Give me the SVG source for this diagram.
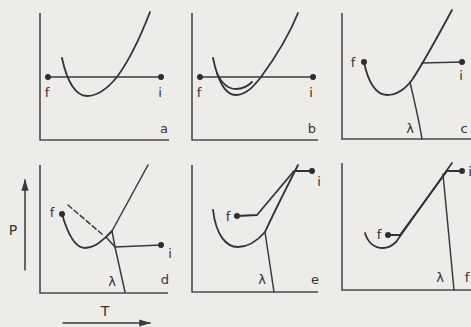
<svg xmlns="http://www.w3.org/2000/svg" width="471" height="327" viewBox="0 0 471 327">
<defs>
<style>
.ln{fill:none;stroke:#3a3a3a;stroke-width:1.5;stroke-linecap:round;stroke-linejoin:round}
.cv{fill:none;stroke:#333;stroke-width:1.8;stroke-linecap:round;stroke-linejoin:round}
.ax{fill:none;stroke:#4a4a4a;stroke-width:1.6}
.dot{fill:#2e2e2e}
.t{font-family:"DejaVu Sans","Liberation Sans",sans-serif;font-size:13px;fill:#333;text-anchor:middle}
</style>
<marker id="ah" viewBox="0 0 10 10" refX="9" refY="5" markerWidth="8" markerHeight="8" markerUnits="userSpaceOnUse" orient="auto"><path d="M0,1 L10,5 L0,9 Z" fill="#3a3a3a"/></marker>
<marker id="ahb" viewBox="0 0 10 10" refX="9" refY="5" markerWidth="12" markerHeight="12" markerUnits="userSpaceOnUse" orient="auto"><path d="M0,2 L10,5 L0,8 Z" fill="#3a3a3a"/></marker>
</defs>
<rect width="471" height="327" fill="#eeece8"/>

<g id="panel-a">
<path class="ax" d="M40,13 L40,140 L169,140"/>
<path class="ln" d="M48,77 L161,77"/>
<path class="cv" d="M62,58 C67,82 76,96 87,96 C98,96 108,88 117,77 C128,62 140,38 150,12"/>
<circle class="dot" cx="48" cy="77" r="3"/>
<circle class="dot" cx="161" cy="77" r="3"/>
<text class="t" x="47" y="97">f</text>
<text class="t" x="160" y="97">i</text>
<text class="t" x="164" y="133">a</text>
</g>

<g id="panel-b">
<path class="ax" d="M192,13 L192,140 L318,140"/>
<path class="ln" d="M200,77 L313,77"/>
<path class="cv" d="M213,58 C218,82 226,95 236,95 C246,95 254,86 261,77 C272,62 288,38 298,13"/>
<path class="cv" d="M217,73 C222,84 229,89 236,89 C243,89 248,86 252,82"/>
<circle class="dot" cx="200" cy="77" r="3"/>
<circle class="dot" cx="313" cy="77" r="3"/>
<text class="t" x="199" y="97">f</text>
<text class="t" x="311" y="97">i</text>
<text class="t" x="312" y="133">b</text>
</g>

<g id="panel-c">
<path class="ax" d="M342,13 L342,139 L471,139"/>
<path class="cv" d="M364,62 C368,82 376,95 387,95 C398,95 406,88 412,80 C420,68 438,36 452,10"/>
<path class="ln" d="M422,63 L462,62"/>
<path class="ln" d="M410,82 C414,100 419,120 422,139"/>
<circle class="dot" cx="364" cy="62" r="3"/>
<circle class="dot" cx="462" cy="62" r="3"/>
<text class="t" x="353" y="67">f</text>
<text class="t" x="461" y="80">i</text>
<text class="t" x="410" y="133">λ</text>
<text class="t" x="464" y="133">c</text>
</g>

<g id="panel-d">
<path class="ax" d="M40,165 L40,293 L168,293"/>
<path class="cv" d="M62,214 C68,235 76,248 85,248 C94,248 100,242 106,237 L112,231"/>
<path class="ln" d="M148,165 L112,231"/>
<path class="ln" d="M68,205 L103,235" stroke-dasharray="5,3"/>
<path class="ln" d="M106,237 L115,247"/>
<path class="ln" d="M112,231 L115,247 L125,292"/>
<path class="ln" d="M115,247 L161,245"/>
<circle class="dot" cx="62" cy="214" r="3"/>
<circle class="dot" cx="161" cy="245" r="3"/>
<text class="t" x="52" y="217">f</text>
<text class="t" x="170" y="258">i</text>
<text class="t" x="112" y="286">λ</text>
<text class="t" x="165" y="284">d</text>
</g>

<g id="panel-e">
<path class="ax" d="M192,165 L192,292 L318,292"/>
<path class="cv" d="M213,210 C216,235 226,247 238,247 C250,247 258,240 265,232 C275,210 288,185 298,165"/>
<path class="ln" d="M265,232 L274,292"/>
<path class="cv" d="M237,216 L257,215 L294,171 L312,171"/>
<circle class="dot" cx="237" cy="216" r="3"/>
<circle class="dot" cx="312" cy="171" r="3"/>
<text class="t" x="228" y="221">f</text>
<text class="t" x="319" y="186">i</text>
<text class="t" x="262" y="284">λ</text>
<text class="t" x="315" y="284">e</text>
</g>

<g id="panel-f">
<path class="ax" d="M342,163 L342,290 L471,290"/>
<path class="cv" d="M365,233 C368,243 375,248 383,248 C389,248 393,245 396,242 L452,163"/>
<path class="cv" d="M388,235 L400,235 L447,171 L462,171"/>
<path class="ln" d="M443,174 L454,290"/>
<circle class="dot" cx="388" cy="235" r="3"/>
<circle class="dot" cx="462" cy="171" r="3"/>
<text class="t" x="379" y="239">f</text>
<text class="t" x="470" y="176">i</text>
<text class="t" x="440" y="282">λ</text>
<text class="t" x="467" y="282">f</text>
</g>

<g id="connectors">
<path class="ln" d="M25,270 L25,180" marker-end="url(#ahb)"/>
<path class="ln" d="M63,323 L150,323" marker-end="url(#ahb)"/>
</g>
<text class="t" x="13" y="235" style="font-size:14px">P</text>
<text class="t" x="105" y="316" style="font-size:14px">T</text>
</svg>
